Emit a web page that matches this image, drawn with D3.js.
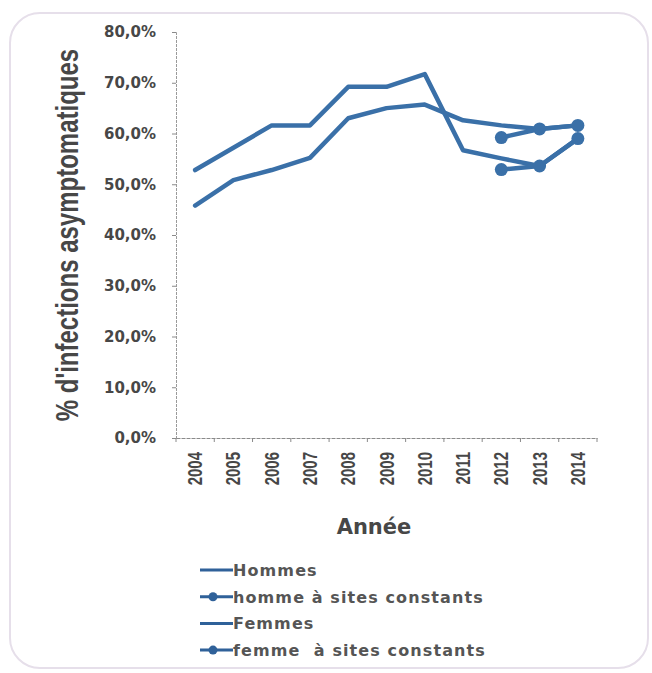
<!DOCTYPE html>
<html>
<head>
<meta charset="utf-8">
<script src="https://cdn.jsdelivr.net/npm/d3@7"></script>
<style>
  html, body { margin: 0; padding: 0; background: #ffffff; }
  #chart { width: 652px; height: 673px; }
</style>
</head>
<body>
<div id="chart"></div>
<script>
// Chart data
const YEARS = ["2004", "2005", "2006", "2007", "2008", "2009", "2010", "2011", "2012", "2013", "2014"];
const YEARS_CONST = ["2012", "2013", "2014"];

const HOMMES = [52.8, 57.2, 61.6, 61.6, 69.2, 69.2, 71.7, 56.7, 55.1, 53.6, 59.0];
const HOMMES_CONST = [52.9, 53.6, 59.0];
const FEMMES = [45.8, 50.8, 52.8, 55.2, 63.0, 65.0, 65.7, 62.6, 61.6, 60.9, 61.6];
const FEMMES_CONST = [59.2, 60.9, 61.6];

const Y_TICKS = [0, 10, 20, 30, 40, 50, 60, 70, 80];
const LEGEND_LABELS = ["Hommes", "homme à sites constants", "Femmes", "femme  à sites constants"];
const LEGEND_MARKERS = [false, true, false, true];

// Frame and plot area
const FRAME_WIDTH = 652;
const FRAME_HEIGHT = 673;
const PLOT = {left: 176, right: 597, top: 32, bottom: 438};

const LINE_COLOR = "#3a70a8";
const TEXT_COLOR = "#474747";

const FRAME = d3.select("#chart")
                .append("svg")
                  .attr("width", FRAME_WIDTH)
                  .attr("height", FRAME_HEIGHT);

// Rounded border around the figure
FRAME.append("rect")
     .attr("x", 10)
     .attr("y", 13)
     .attr("width", 638)
     .attr("height", 655)
     .attr("rx", 30)
     .attr("fill", "none")
     .attr("stroke", "#e6dfea")
     .attr("stroke-width", 2);

// Scales
const X_SCALE = d3.scaleBand()
                  .domain(YEARS)
                  .range([PLOT.left, PLOT.right])
                  .padding(0);
const BW = X_SCALE.bandwidth();

const Y_SCALE = d3.scaleLinear()
                  .domain([0, 80])
                  .range([PLOT.bottom, PLOT.top]);

const fr = d3.formatLocale({decimal: ",", thousands: " ", grouping: [3], currency: ["", "€"]});
const fmt = fr.format(".1f");

// Y axis
const yAxis = FRAME.append("g")
                   .attr("transform", "translate(" + PLOT.left + ",0)")
                   .call(d3.axisLeft(Y_SCALE)
                           .tickValues(Y_TICKS)
                           .tickSize(4)
                           .tickPadding(16)
                           .tickFormat(d => fmt(d) + "%"));
yAxis.select(".domain").attr("stroke", "#9a9a9a").attr("stroke-dasharray", "3,1");
yAxis.selectAll(".tick line").attr("stroke", "#8a8a8a");
yAxis.selectAll("text")
     .attr("fill", TEXT_COLOR)
     .style("font-family", "DejaVu Sans")
     .style("font-weight", "bold")
     .style("font-size", "15px");

// X axis
const xAxis = FRAME.append("g")
                   .attr("transform", "translate(0," + PLOT.bottom + ")")
                   .call(d3.axisBottom(X_SCALE).tickSize(0).tickPadding(0));
xAxis.select(".domain").attr("stroke", "#8a8a8a").attr("stroke-dasharray", "4,1");
xAxis.selectAll("text")
     .attr("y", 0)
     .attr("x", -14)
     .attr("dy", "0.36em")
     .attr("transform", "rotate(-90) scale(1,1.3)")
     .attr("text-anchor", "end")
     .attr("fill", TEXT_COLOR)
     .style("font-family", "Liberation Sans")
     .style("font-weight", "bold")
     .style("font-size", "15px");

// Tick marks between the categories (Excel style)
FRAME.append("g")
     .selectAll("line")
     .data(YEARS.concat(["end"]))
     .enter()
     .append("line")
       .attr("x1", d => d === "end" ? PLOT.right : X_SCALE(d))
       .attr("x2", d => d === "end" ? PLOT.right : X_SCALE(d))
       .attr("y1", PLOT.bottom)
       .attr("y2", PLOT.bottom + 4)
       .attr("stroke", "#8a8a8a");

// Axis titles
FRAME.append("text")
     .attr("transform", "translate(78,235) rotate(-90) scale(1,1.3)")
     .attr("text-anchor", "middle")
     .attr("fill", TEXT_COLOR)
     .style("font-family", "Liberation Sans")
     .style("font-weight", "bold")
     .style("font-size", "24px")
     .text("% d'infections asymptomatiques");

FRAME.append("text")
     .attr("x", 374)
     .attr("y", 534)
     .attr("text-anchor", "middle")
     .attr("fill", TEXT_COLOR)
     .style("font-family", "DejaVu Sans")
     .style("font-weight", "bold")
     .style("font-size", "21px")
     .text("Année");

// Series
const series = [
  {years: YEARS, values: HOMMES, markers: false},
  {years: YEARS, values: FEMMES, markers: false},
  {years: YEARS_CONST, values: HOMMES_CONST, markers: true},
  {years: YEARS_CONST, values: FEMMES_CONST, markers: true}
];

const line = d3.line()
               .x(d => X_SCALE(d[0]) + BW / 2)
               .y(d => Y_SCALE(d[1]));

series.forEach(s => {
  const pts = s.years.map((y, i) => [y, s.values[i]]);
  FRAME.append("path")
       .datum(pts)
       .attr("d", line)
       .attr("fill", "none")
       .attr("stroke", LINE_COLOR)
       .attr("stroke-width", 4.5)
       .attr("stroke-linejoin", "round")
       .attr("stroke-linecap", "round");
  if (s.markers) {
    FRAME.append("g")
         .selectAll("circle")
         .data(pts)
         .enter()
         .append("circle")
           .attr("cx", d => X_SCALE(d[0]) + BW / 2)
           .attr("cy", d => Y_SCALE(d[1]))
           .attr("r", 6.5)
           .attr("fill", LINE_COLOR);
  }
});

// Legend
const legend = FRAME.append("g")
                    .selectAll("g")
                    .data(LEGEND_LABELS)
                    .enter()
                    .append("g")
                      .attr("transform", (d, i) => "translate(200," + (570 + i * 26.7) + ")");

legend.append("line")
      .attr("x1", 0)
      .attr("x2", 33)
      .attr("y1", 0)
      .attr("y2", 0)
      .attr("stroke", "#2f6199")
      .attr("stroke-width", 3);

legend.filter((d, i) => LEGEND_MARKERS[i])
      .append("circle")
        .attr("cx", 13)
        .attr("cy", 0)
        .attr("r", 4.5)
        .attr("fill", "#2f6199");

legend.append("text")
      .attr("x", 33)
      .attr("y", 6)
      .attr("fill", "#555555")
      .style("font-family", "DejaVu Sans")
      .style("font-weight", "bold")
      .style("font-size", "16px")
      .style("letter-spacing", "1.1px")
      .style("white-space", "pre")
      .text(d => d);
</script>
</body>
</html>
